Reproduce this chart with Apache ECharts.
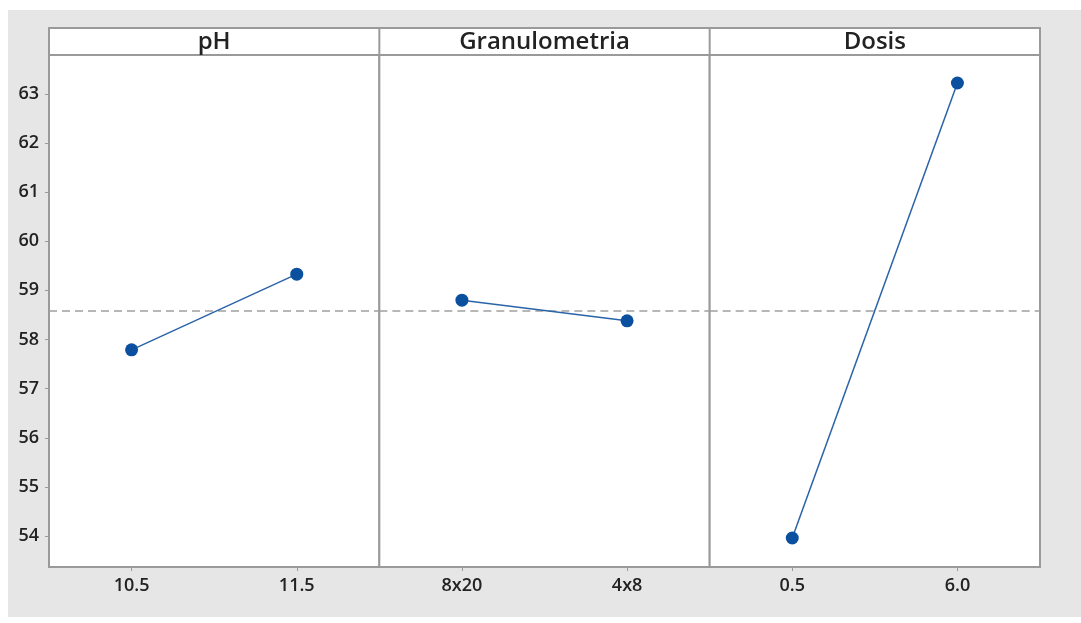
<!DOCTYPE html>
<html>
<head>
<meta charset="utf-8">
<script src="https://cdn.jsdelivr.net/npm/echarts@6/dist/echarts.min.js"></script>
<style>
html,body{margin:0;padding:0;background:#fff;}
#chart{width:1081px;height:623px;}
</style>
</head>
<body>
<div id="chart"></div>
<script>
// ---- data ----
const panelTitles = ['pH', 'Granulometria', 'Dosis'];
const categoriesPH = ['10.5', '11.5'];
const valuesPH = [57.79, 59.33];
const categoriesGran = ['8x20', '4x8'];
const valuesGran = [58.80, 58.38];
const categoriesDosis = ['0.5', '6.0'];
const valuesDosis = [53.96, 63.22];
const meanValue = 58.59;
const yTickValues = [54, 55, 56, 57, 58, 59, 60, 61, 62, 63];

const panels = [
  { cats: categoriesPH, vals: valuesPH },
  { cats: categoriesGran, vals: valuesGran },
  { cats: categoriesDosis, vals: valuesDosis }
];

// ---- layout ----
const plotLeft = 49, plotRight = 1040, plotTop = 55, plotBottom = 567, headerTop = 28;
const panelW = (plotRight - plotLeft) / 3;
const yMin = 53.37, yMax = 63.79;
const axisGray = '#9a9a9a';
const font = "'Open Sans', 'DejaVu Sans', sans-serif";

const chart = echarts.init(document.getElementById('chart'));

const grids = [], xAxes = [], yAxes = [], series = [], graphics = [];

graphics.push({
  type: 'rect', z: -10, silent: true,
  shape: { x: 8, y: 10, width: 1073, height: 607 },
  style: { fill: '#e6e6e6' }
});
graphics.push({
  type: 'rect', silent: true,
  shape: { x: plotLeft, y: headerTop, width: plotRight - plotLeft, height: plotTop - headerTop },
  style: { fill: '#ffffff', stroke: axisGray, lineWidth: 2 }
});

panels.forEach((p, i) => {
  const left = plotLeft + i * panelW;
  grids.push({
    left: left, top: plotTop, width: panelW, height: plotBottom - plotTop,
    show: true, backgroundColor: '#ffffff', borderColor: axisGray, borderWidth: 2
  });
  xAxes.push({
    type: 'category', gridIndex: i, data: p.cats, boundaryGap: true,
    axisLine: { show: false },
    axisTick: { show: true, alignWithLabel: true, length: 4, lineStyle: { color: axisGray } },
    axisLabel: { margin: 10, fontSize: 18, fontWeight: 600, color: '#222', fontFamily: font },
    splitLine: { show: false }
  });
  yAxes.push({
    type: 'value', gridIndex: i, min: yMin, max: yMax,
    axisLine: { show: false },
    axisTick: { show: i === 0, length: 4, customValues: yTickValues, lineStyle: { color: axisGray } },
    axisLabel: { show: i === 0, margin: 10, fontSize: 18, fontWeight: 600, color: '#222', fontFamily: font, customValues: yTickValues },
    splitLine: { show: false }
  });
  series.push({
    type: 'line', xAxisIndex: i, yAxisIndex: i, data: p.vals,
    symbol: 'circle', symbolSize: 13,
    itemStyle: { color: '#0b4f9f' },
    lineStyle: { color: '#2a63a8', width: 1.5 },
    markLine: {
      silent: true, symbol: 'none', label: { show: false },
      lineStyle: { color: '#a0a0a0', type: [8, 5], width: 1.5 },
      data: [{ yAxis: meanValue }]
    },
    z: 5
  });
  graphics.push({
    type: 'line', silent: true,
    shape: { x1: left, y1: headerTop, x2: left, y2: plotTop },
    style: { stroke: axisGray, lineWidth: 2 }
  });
  graphics.push({
    type: 'text', silent: true,
    x: left + panelW / 2, y: (headerTop + plotTop) / 2 + 1,
    style: { text: panelTitles[i], fill: '#222', font: "600 24px 'Open Sans', sans-serif", textAlign: 'center', textVerticalAlign: 'middle' }
  });
});

chart.setOption({
  animation: false,
  backgroundColor: 'transparent',
  grid: grids,
  xAxis: xAxes,
  yAxis: yAxes,
  series: series,
  graphic: graphics
});
</script>
</body>
</html>
